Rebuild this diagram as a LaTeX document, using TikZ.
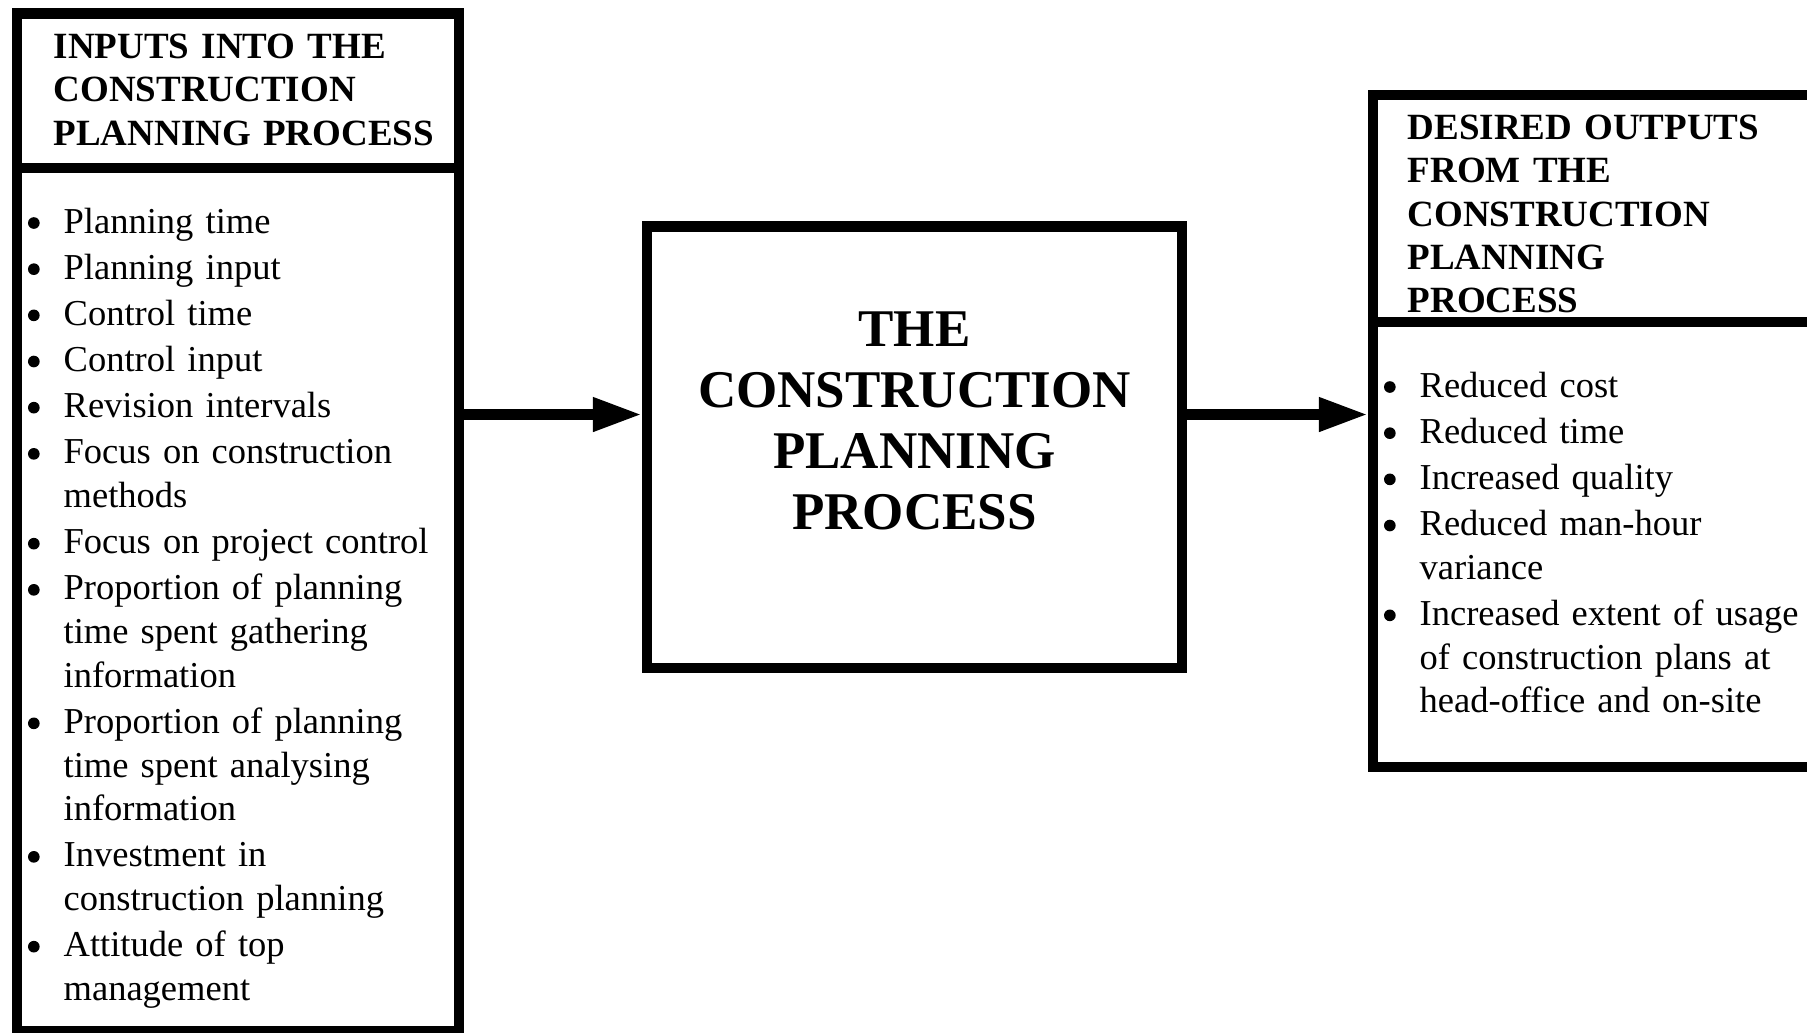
\documentclass[tikz,border=0pt]{standalone}
\usepackage{fontspec}
\setmainfont{Liberation Serif}
\usetikzlibrary{arrows.meta,fit}

\newcommand{\bodyfont}{\fontsize{10.95pt}{13.1pt}\selectfont}
\newcommand{\headfont}{\fontsize{11.1pt}{13pt}\selectfont\bfseries}
\newcommand{\procfont}{\fontsize{15.9pt}{18.3pt}\selectfont\bfseries}
\newcommand{\dotmark}{\tikz[baseline=-3pt]\fill (0,0) circle (1.75pt);}
\newcommand{\fitem}{\setlength{\parskip}{0.75pt}\llap{\dotmark\hspace{7.2pt}}}
\newcommand{\bitem}{\par\noindent\fitem}

\begin{document}
\begin{tikzpicture}
         [x=0.3pt, y=-0.3pt,
          box/.style={draw, line width=3.1pt, inner sep=0pt},
          head text/.style={font=\headfont, text width=125pt, align=left, anchor=base west, inner sep=0pt},
          list text/.style={font=\bodyfont, text width=125pt, align=left, anchor=base west, inner sep=0pt},
          proc text/.style={font=\procfont, text width=170pt, align=center, anchor=base, inner sep=0pt},
          flow/.style={line width=3.1pt, -{Triangle[length=14.7pt,width=9.6pt]}}]
         \useasboundingbox (0,0) rectangle (1807,1032);

         % inputs
         \node[box, fit={(17,13.5) (459,168)}] (inhead) {};
         \node[box, fit={(17,168) (459,1031)}] (inlist) {};
         \node[head text] (inheadtext) at (53,58.5) {INPUTS INTO THE\\ CONSTRUCTION\\ PLANNING PROCESS};
         \node[list text] (inlisttext) at (63,233) {%
            \fitem Planning time
            \bitem Planning input
            \bitem Control time
            \bitem Control input
            \bitem Revision intervals
            \bitem Focus on construction\\ methods
            \bitem Focus on project control
            \bitem Proportion of planning\\ time spent gathering\\ information
            \bitem Proportion of planning\\ time spent analysing\\ information
            \bitem Investment in\\ construction planning
            \bitem Attitude of top\\ management};

         % the process
         \node[box, fit={(647,226.5) (1181.7,668)}] (proc) {};
         \node[proc text] (proctext) at (914.5,346) {THE\\ CONSTRUCTION\\ PLANNING\\ PROCESS};

         % outputs
         \node[box, fit={(1373,95) (1830,322)}] (outhead) {};
         \node[box, fit={(1373,322) (1830,767)}] (outlist) {};
         \node[head text] (outheadtext) at (1407,139.5) {DESIRED OUTPUTS\\ FROM THE\\ CONSTRUCTION\\ PLANNING\\ PROCESS};
         \node[list text] (outlisttext) at (1419,397) {%
            \fitem Reduced cost
            \bitem Reduced time
            \bitem Increased quality
            \bitem Reduced man-hour\\ variance
            \bitem Increased extent of usage\\ of construction plans at\\ head-office and on-site};

         \coordinate (lvl) at (0,414.5);
         \draw[flow] (inlist.east |- lvl) -- (proc.west |- lvl);
         \draw[flow] (proc.east |- lvl) -- (outlist.west |- lvl);
      \end{tikzpicture}
\end{document}
